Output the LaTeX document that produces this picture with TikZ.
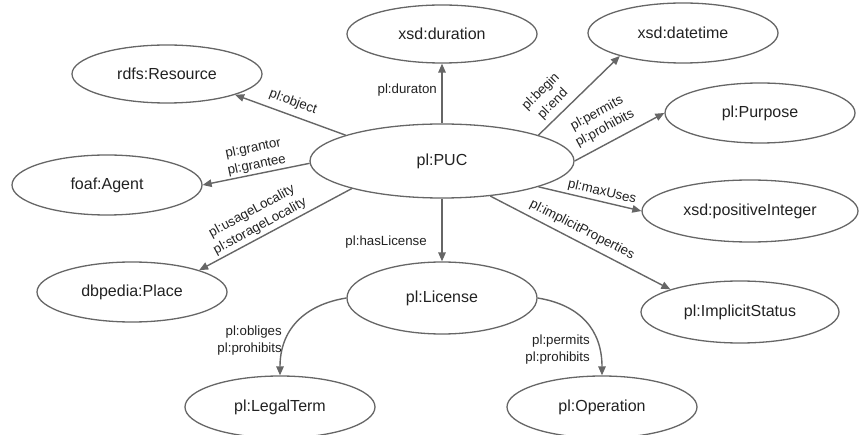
\documentclass[tikz,border=0pt]{standalone}
\usepackage{fontspec}
\setmainfont{Liberation Sans}
\usetikzlibrary{shapes.geometric,arrows.meta}
\definecolor{edgegray}{HTML}{666666}
\definecolor{txt}{HTML}{222222}
\begin{document}
\begin{tikzpicture}[x=1pt,y=1pt,
  ent/.style={ellipse, draw=edgegray, line width=1.3pt, inner sep=0pt, minimum width=190pt, minimum height=60pt, text=txt, font=\fontsize{16}{19}\selectfont},
  rel/.style={draw=edgegray, line width=1.4pt, -{Triangle[length=9pt,width=7.5pt]}},
  lab/.style={text=txt, font=\fontsize{13.3}{17}\selectfont, align=center, inner sep=0pt}]
\useasboundingbox (0,0) rectangle (859,434);
% entities
\node[ent, minimum height=58pt] (dur) at (442,400) {xsd:duration};
\node[ent] (dt) at (683,401) {xsd:datetime};
\node[ent, minimum height=58pt] (res) at (167,360) {rdfs:Resource};
\node[ent] (purp) at (760,321) {pl:Purpose};
\node[ent, minimum width=264pt, minimum height=74pt] (puc) at (442,273) {pl:PUC};
\node[ent] (agent) at (107,249) {foaf:Agent};
\node[ent, minimum width=216pt, minimum height=62pt] (posint) at (750,223) {xsd:positiveInteger};
\node[ent] (place) at (132,142) {dbpedia:Place};
\node[ent, minimum height=72pt] (lic) at (442,136) {pl:License};
\node[ent, minimum width=198pt, minimum height=62pt] (impl) at (740,122) {pl:ImplicitStatus};
\node[ent, minimum height=62pt] (legal) at (280,27) {pl:LegalTerm};
\node[ent, minimum height=62pt] (oper) at (602,27) {pl:Operation};
% connectors
\draw[rel] (puc.north) -- (dur.south);
\draw[rel] (puc.165.8) -- (res.-17);
\draw[rel] (puc.181) -- (agent.east);
\draw[rel] (puc.197) -- (place.18);
\draw[rel] (puc.south) -- (lic.north);
\draw[rel] (puc.15.3) -- (dt.200);
\draw[rel] (puc.east) -- (purp.west);
\draw[rel] (puc.-15.4) -- (posint.west);
\draw[rel] (puc.-36.9) -- (impl.162.6);
\draw[rel] (lic.west) .. controls +(-43,-7) and +(0,45) .. (legal.north);
\draw[rel] (lic.east) .. controls +(43,-7) and +(0,45) .. (oper.north);
% labels
\node[lab, rotate=-20.5] (lobj) at (293,332) {pl:object};
\node[lab, rotate=12] (lgr) at (255,277) {pl:grantor\\pl:grantee};
\node[lab, rotate=28.5] (lloc) at (256,215) {pl:usageLocality\\pl:storageLocality};
\node[lab, rotate=45] (lbeg) at (547,336) {pl:begin\\pl:end};
\node[lab, rotate=28.6] (lperm) at (601,313) {pl:permits\\pl:prohibits};
\node[lab, rotate=-13] (lmax) at (602,242) {pl:maxUses};
\node[lab, rotate=-27] (limp) at (582,204) {pl:implicitProperties};
\node[lab, anchor=east] (ldur) at (437,344) {pl:duraton};
\node[lab, anchor=east] (llic) at (427,192) {pl:hasLicense};
\node[lab, anchor=east, align=right] (lobl) at (282,93) {pl:obliges\\pl:prohibits};
\node[lab, anchor=east, align=right] (lperm2) at (590,84) {pl:permits\\pl:prohibits};
\end{tikzpicture}
\end{document}
